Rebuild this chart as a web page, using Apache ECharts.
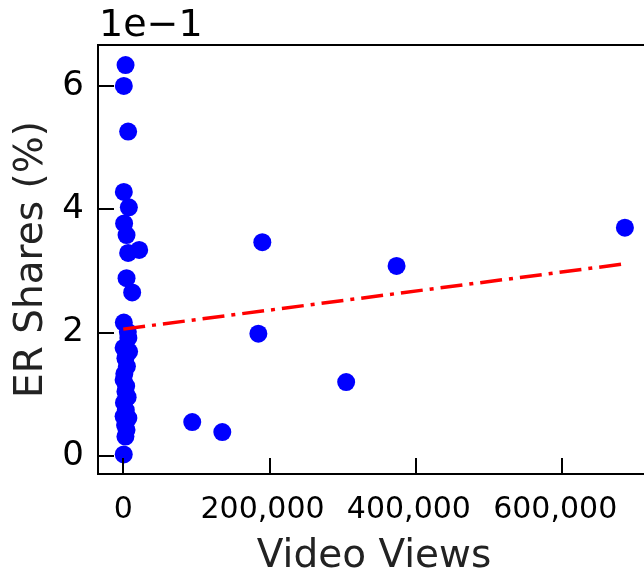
<!DOCTYPE html>
<html>
<head>
<meta charset="utf-8">
<script src="https://cdn.jsdelivr.net/npm/echarts@6/dist/echarts.min.js"></script>
<style>
  html, body { margin: 0; padding: 0; background: #fff; }
  #main { width: 644px; height: 571px; }
</style>
</head>
<body>
<div id="main"></div>
<script>
// video views per post
var views = [
  3150, 800, 6700, 800, 7700, 1200, 4500, 21800, 6700, 4500, 12200, 800,
  6300, 7000, 500, 8000, 3000, 5000, 1500, 500, 4000, 3000, 6000, 1000,
  3500, 500, 7000, 2500, 4500, 3000, 700,
  190100, 373600, 685700, 184700, 304700, 94300, 135400
];
// ER shares (fraction)
var shares = [
  0.634, 0.600, 0.526, 0.428, 0.403, 0.377, 0.358, 0.334, 0.329, 0.288, 0.265, 0.216,
  0.201, 0.191, 0.175, 0.169, 0.158, 0.145, 0.133, 0.123, 0.113, 0.104, 0.095, 0.086,
  0.074, 0.064, 0.061, 0.050, 0.042, 0.031, 0.002,
  0.3465, 0.308, 0.370, 0.198, 0.1195, 0.0546, 0.0384
];
// fitted trend line end points
var trendX = [0, 685700];
var trendY = [0.2054, 0.3114];

var xTicks = [0, 200000, 400000, 600000];
var yTicks = [0, 0.2, 0.4, 0.6];

var font = 'DejaVu Sans';

var myChart = echarts.init(document.getElementById('main'));
myChart.setOption({
  backgroundColor: '#ffffff',
  animation: false,
  grid: {
    left: 98, top: 45, width: 552, height: 429,
    outerBoundsMode: 'none',
    containLabel: false,
    show: true, borderColor: '#000', borderWidth: 2, backgroundColor: 'transparent'
  },
  graphic: [{
    type: 'text', left: 99, top: 7, z: 10,
    style: { text: '1e\u22121', font: '38px "DejaVu Sans"', fill: '#000' }
  }],
  xAxis: {
    type: 'value',
    min: -34500, max: 720000,
    z: 5,
    splitLine: { show: false },
    axisLine: { onZero: false, lineStyle: { color: '#000', width: 2 } },
    axisTick: { inside: true, length: 16, lineStyle: { color: '#000', width: 2 }, customValues: xTicks },
    axisLabel: {
      customValues: xTicks,
      margin: 21,
      color: '#000', fontFamily: font, fontSize: 30,
      formatter: function (v) {
        if (v === 0) return '{z|0}';
        return '{n|' + v.toLocaleString('en-US') + '}';
      },
      rich: {
        z: { fontFamily: font, fontSize: 30, color: '#000' },
        n: { fontFamily: font, fontSize: 30, color: '#000', padding: [0, 14, 0, 0] }
      }
    },
    name: 'Video Views',
    nameLocation: 'middle',
    nameGap: 63,
    nameTextStyle: { fontFamily: font, fontSize: 39, color: '#222' }
  },
  yAxis: {
    type: 'value',
    min: -0.0297, max: 0.6665,
    z: 5,
    splitLine: { show: false },
    axisLine: { onZero: false, lineStyle: { color: '#000', width: 2 } },
    axisTick: { inside: true, length: 16, lineStyle: { color: '#000', width: 2 }, customValues: yTicks },
    axisLabel: {
      customValues: yTicks,
      margin: 14,
      color: '#000', fontFamily: font, fontSize: 34,
      formatter: function (v) { return String(Math.round(v * 10)); }
    },
    name: 'ER Shares (%)',
    nameLocation: 'middle',
    nameGap: 40,
    nameRotate: 90,
    nameTextStyle: { fontFamily: font, fontSize: 39, color: '#222' }
  },
  series: [
    {
      type: 'scatter',
      symbolSize: 18,
      itemStyle: { color: '#0000ff', opacity: 1 },
      data: views.map(function (v, i) { return [v, shares[i]]; }),
      z: 2
    },
    {
      type: 'line',
      data: trendX.map(function (v, i) { return [v, trendY[i]]; }),
      symbol: 'none',
      lineStyle: { color: '#ff0000', width: 3.5, type: [22, 7, 4, 7] },
      z: 3
    }
  ]
});
</script>
</body>
</html>
